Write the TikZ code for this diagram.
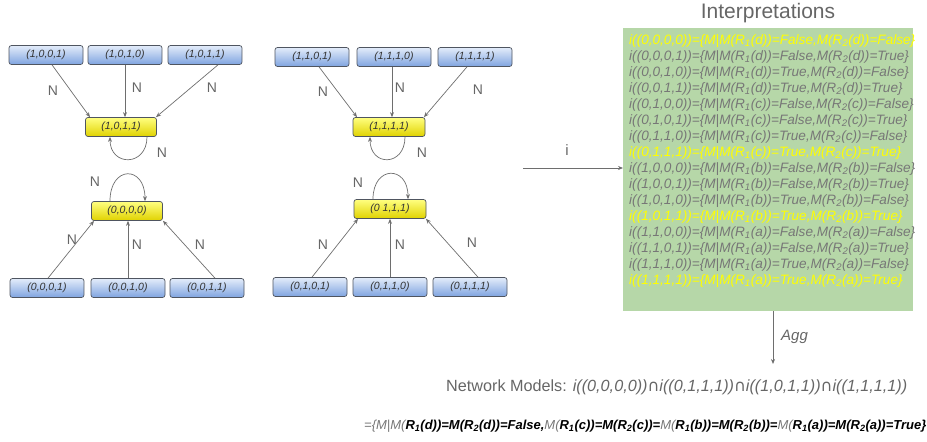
\documentclass[tikz,border=0pt]{standalone}
\usepackage{fontspec}
\setmainfont{Liberation Sans}
\newfontfamily\dejavu{DejaVu Sans}
\usetikzlibrary{arrows.meta}
\definecolor{boxline}{HTML}{4F5560}
\definecolor{bluetop}{HTML}{E3ECFA}
\definecolor{bluebot}{HTML}{7FA4E0}
\definecolor{yeltop}{HTML}{FFFF80}
\definecolor{yelbot}{HTML}{E0D200}
\definecolor{edgec}{HTML}{6E6E6E}
\definecolor{labc}{HTML}{666666}
\definecolor{greenbg}{HTML}{B6D7A8}
\definecolor{intg}{HTML}{777777}
\definecolor{inty}{HTML}{FFFF00}
\definecolor{boxtxt}{HTML}{333333}
\newcommand\Rone{R\textsubscript{1}}
\newcommand\Rtwo{R\textsubscript{2}}
\newcommand\interp[4]{i((#1))=\{M|M(\Rone(#2))=#3,M(\Rtwo(#2))=#4\}}
\tikzset{
  x=1pt, y=-1pt,
  statebox/.style={draw=boxline, line width=0.7pt, rounded corners=2.5pt,
    minimum width=74pt, minimum height=19pt, inner sep=0pt,
    font=\fontsize{10.5}{12}\selectfont\itshape, text=boxtxt},
  bluebox/.style={statebox, top color=bluetop, bottom color=bluebot},
  yelbox/.style={statebox, minimum width=71pt, top color=yeltop, bottom color=yelbot},
  edge/.style={draw=edgec, line width=0.7pt, -{Stealth[length=5pt,width=4pt]}},
  nlab/.style={text=labc, font=\fontsize{14}{16}\selectfont, inner sep=0pt},
  iline/.style={anchor=west, inner sep=0pt, text=intg,
    font=\fontsize{13.6}{16}\selectfont\itshape},
  yline/.style={iline, text=inty},
}
\begin{document}
\begin{tikzpicture}
\useasboundingbox (0,0) rectangle (927,442);
% ---------- left cluster ----------
\node[bluebox] (tl1) at (46,55) {(1,0,0,1)};
\node[bluebox] (tl2) at (125,55) {(1,0,1,0)};
\node[bluebox] (tl3) at (205,55) {(1,0,1,1)};
\node[yelbox] (yl1) at (121,127) {(1,0,1,1)};
\draw[edge] ([xshift=6pt]tl1.south) -- ([xshift=-31pt]yl1.north);
\draw[edge] (tl2.south) -- (tl2.south |- yl1.north);
\draw[edge] ([xshift=13pt]tl3.south) -- ([xshift=35pt]yl1.north);
\draw[edge] ([xshift=26pt]yl1.south) .. controls +(0,30) and +(0,30) .. ([xshift=-11pt]yl1.south);
\node[nlab] (n1) at (53,91) {N};
\node[nlab] (n2) at (137,88) {N};
\node[nlab] (n3) at (212,88) {N};
\node[nlab] (n4) at (162,153) {N};

\node[yelbox] (yl0) at (127,211) {(0,0,0,0)};
\node[bluebox] (bl1) at (47,288) {(0,0,0,1)};
\node[bluebox] (bl2) at (128,288) {(0,0,1,0)};
\node[bluebox] (bl3) at (207,288) {(0,0,1,1)};
\draw[edge] ([xshift=1pt]bl1.north) -- ([xshift=-33pt]yl0.south);
\draw[edge] (bl2.north) -- (bl2.north |- yl0.south);
\draw[edge] ([xshift=8pt]bl3.north) -- ([xshift=36pt]yl0.south);
\draw[edge] ([xshift=-17pt]yl0.north) .. controls +(0,-36) and +(0,-36) .. ([xshift=18pt]yl0.north);
\node[nlab] (n5) at (72,240) {N};
\node[nlab] (n6) at (137,245) {N};
\node[nlab] (n7) at (200,245) {N};
\node[nlab] (n8) at (95,182) {N};

% ---------- middle cluster ----------
\node[bluebox] (tm1) at (312,57) {(1,1,0,1)};
\node[bluebox] (tm2) at (394,57) {(1,1,1,0)};
\node[bluebox] (tm3) at (475,57) {(1,1,1,1)};
\node[yelbox, minimum width=72pt] (ym1) at (389,127) {(1,1,1,1)};
\draw[edge] ([xshift=7pt]tm1.south) -- ([xshift=-32pt]ym1.north);
\draw[edge] ([xshift=-2pt]tm2.south) -- ([xshift=-2pt]tm2.south |- ym1.north);
\draw[edge] ([xshift=-8pt]tm3.south) -- ([xshift=35pt]ym1.north);
\draw[edge] ([xshift=16pt]ym1.south) .. controls +(0,30) and +(0,30) .. ([xshift=-19pt]ym1.south);
\node[nlab] (n9) at (323,92) {N};
\node[nlab] (n10) at (400,88) {N};
\node[nlab] (n11) at (478,90) {N};
\node[nlab] (n12) at (422,153) {N};

\node[yelbox, minimum width=72pt] (ym0) at (390,209) {(0 1,1,1)};
\node[bluebox] (bm1) at (310,287) {(0,1,0,1)};
\node[bluebox] (bm2) at (390,287) {(0,1,1,0)};
\node[bluebox] (bm3) at (470,287) {(0,1,1,1)};
\draw[edge] ([xshift=2pt]bm1.north) -- ([xshift=-32pt]ym0.south);
\draw[edge] (bm2.north) -- (bm2.north |- ym0.south);
\draw[edge] ([xshift=8pt]bm3.north) -- ([xshift=36pt]ym0.south);
\draw[edge] ([xshift=-17pt]ym0.north) .. controls +(0,-34) and +(0,-34) .. ([xshift=18pt]ym0.north);
\node[nlab] (n13) at (323,245) {N};
\node[nlab] (n14) at (400,245) {N};
\node[nlab] (n15) at (472,243) {N};
\node[nlab] (n16) at (358,183) {N};

% ---------- interpretations ----------
\node[fill=greenbg, minimum width=290pt, minimum height=283pt, inner sep=0pt, anchor=north west] (green) at (623,28) {};
\node[text=labc, font=\fontsize{21}{24}\selectfont, inner sep=0pt] (title) at (768,13) {Interpretations};
\coordinate (istart) at (523,168);
\draw[edge] (istart) -- (istart -| green.west);
\node[text=labc, font=\fontsize{15}{18}\selectfont, inner sep=0pt] (ilab) at (567,150) {i};

\node[yline] (l0) at (629,41) {\interp{0,0,0,0}{d}{False}{False}};
\node[iline] (l1) at (629,57) {\interp{0,0,0,1}{d}{False}{True}};
\node[iline] (l2) at (629,73) {\interp{0,0,1,0}{d}{True}{False}};
\node[iline] (l3) at (629,89) {\interp{0,0,1,1}{d}{True}{True}};
\node[iline] (l4) at (629,105) {\interp{0,1,0,0}{c}{False}{False}};
\node[iline] (l5) at (629,121) {\interp{0,1,0,1}{c}{False}{True}};
\node[iline] (l6) at (629,137) {\interp{0,1,1,0}{c}{True}{False}};
\node[yline] (l7) at (629,153) {\interp{0,1,1,1}{c}{True}{True}};
\node[iline] (l8) at (629,169) {\interp{1,0,0,0}{b}{False}{False}};
\node[iline] (l9) at (629,185) {\interp{1,0,0,1}{b}{False}{True}};
\node[iline] (l10) at (629,201) {\interp{1,0,1,0}{b}{True}{False}};
\node[yline] (l11) at (629,217) {\interp{1,0,1,1}{b}{True}{True}};
\node[iline] (l12) at (629,233) {\interp{1,1,0,0}{a}{False}{False}};
\node[iline] (l13) at (629,249) {\interp{1,1,0,1}{a}{False}{True}};
\node[iline] (l14) at (629,265) {\interp{1,1,1,0}{a}{True}{False}};
\node[yline] (l15) at (629,281) {\interp{1,1,1,1}{a}{True}{True}};

% ---------- aggregation ----------
\coordinate (aggend) at (773,364);
\draw[edge] (aggend |- green.south) -- (aggend);
\node[text=labc, font=\fontsize{15}{18}\selectfont\itshape, inner sep=0pt, anchor=west] (agg) at (781,337) {Agg};

\node[anchor=west, inner sep=0pt, text=labc, font=\fontsize{16.2}{19}\selectfont] (nm) at (446,387)
  {Network Models: \itshape i((0,0,0,0)){\dejavu\upshape ∩}i((0,1,1,1)){\dejavu\upshape ∩}i((1,0,1,1)){\dejavu\upshape ∩}i((1,1,1,1))};

\node[anchor=west, inner sep=0pt, font=\fontsize{13}{15}\selectfont\itshape] (res) at (364,426)
  {\textcolor{intg}{=\{M|M(}\textbf{\Rone(d))=M(\Rtwo(d))=False,}\textcolor{intg}{M(}\textbf{\Rone(c))=M(\Rtwo(c))=}\textcolor{intg}{M(}\textbf{\Rone(b))=M(\Rtwo(b))=}\textcolor{intg}{M(}\textbf{\Rone(a))=M(\Rtwo(a))=True\}}};
\end{tikzpicture}
\end{document}
